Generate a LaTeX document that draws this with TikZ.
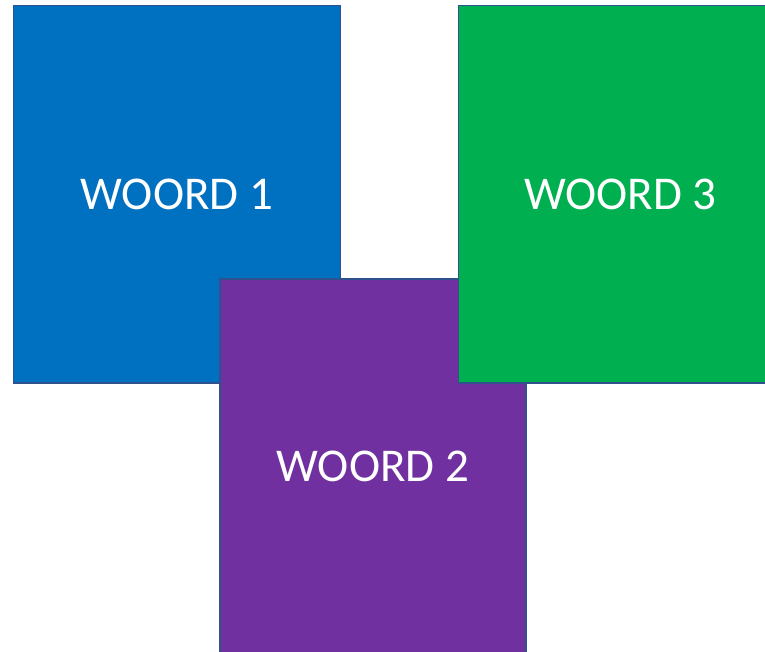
\documentclass[tikz,border=0pt]{standalone}
\usepackage{fontspec}
\setmainfont{Carlito}
\definecolor{wblue}{HTML}{0070C0}
\definecolor{wpurple}{HTML}{7030A0}
\definecolor{wgreen}{HTML}{00B050}
\definecolor{wedge}{HTML}{2F528F}
\begin{document}
\begin{tikzpicture}[x=1pt,y=-1pt,
  card/.style={draw=wedge, line width=1.5pt, minimum width=#1, anchor=north west, inner sep=0pt, text=white, font=\fontsize{47}{47}\selectfont},
]
\useasboundingbox (0,0) rectangle (765,652);
\clip (0,0) rectangle (765,652);
\node[card=327pt, fill=wblue, minimum height=377pt] (w1) at (12.5,5) {WOORD 1};
\node[card=306pt, fill=wpurple, minimum height=376pt] (w2) at (219,278) {WOORD 2};
\node[card=324pt, fill=wgreen, minimum height=377pt] (w3) at (457.5,5) {WOORD 3};
\end{tikzpicture}
\end{document}
